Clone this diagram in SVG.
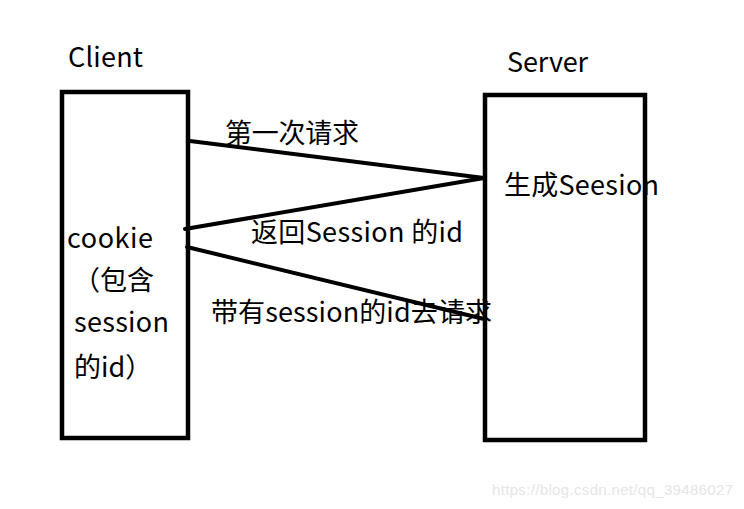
<svg xmlns="http://www.w3.org/2000/svg" width="744" height="509" viewBox="0 0 744 509">
<style>
.box{fill:none;stroke:#000;stroke-width:4.5}
.ln{stroke:#000;stroke-width:4;stroke-linecap:round}
.t{font-family:"Microsoft YaHei","Noto Sans CJK SC","Noto Sans",sans-serif;font-size:27px;fill:#000}
.wm{font-family:"Liberation Sans",Arial,sans-serif;font-size:15px;fill:#e6e6e6}
</style>
<rect width="744" height="509" fill="#fff"/>
<g id="client">
<rect class="box" x="62" y="92" width="126" height="346"/>
<text class="t" x="68" y="67" textLength="75">Client</text>
<text class="t" x="67" y="248" textLength="86">cookie</text>
<text class="t" x="73" y="290">（包含</text>
<text class="t" x="74" y="332" textLength="95">session</text>
<text class="t" x="74" y="377">的id）</text>
</g>
<g id="server">
<rect class="box" x="485" y="95" width="160" height="345"/>
<text class="t" x="507" y="72" textLength="81">Server</text>
<text class="t" x="504" y="195" textLength="155">生成Seesion</text>
</g>
<g id="connectors">
<line class="ln" x1="190" y1="141" x2="484" y2="178"/>
<line class="ln" x1="484" y1="178" x2="185" y2="229"/>
<line class="ln" x1="187" y1="247" x2="484" y2="319"/>
</g>
<g id="labels">
<text class="t" x="225" y="143" textLength="134">第一次请求</text>
<text class="t" x="251" y="242" textLength="212">返回Session 的id</text>
<text class="t" x="211" y="322" textLength="281">带有session的id去请求</text>
</g>
<text class="wm" x="492" y="495" textLength="241">https://blog.csdn.net/qq_39486027</text>
</svg>
